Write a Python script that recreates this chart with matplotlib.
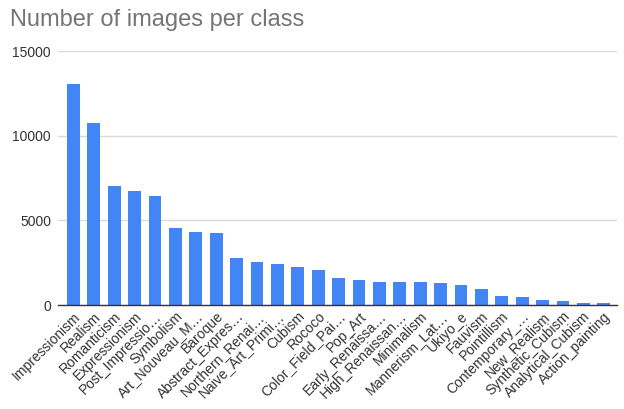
import matplotlib
matplotlib.use("Agg")
import matplotlib.pyplot as plt

categories = ["Impressionism", "Realism", "Romanticism", "Expressionism", "Post_Impressio…",
              "Symbolism", "Art_Nouveau_M…", "Baroque", "Abstract_Expres…", "Northern_Renai…",
              "Naive_Art_Primi…", "Cubism", "Rococo", "Color_Field_Pai…", "Pop_Art",
              "Early_Renaissa…", "High_Renaissan…", "Minimalism", "Mannerism_Lat…", "Ukiyo_e",
              "Fauvism", "Pointillism", "Contemporary_…", "New_Realism", "Synthetic_Cubism",
              "Analytical_Cubism", "Action_painting"]
counts = [13060, 10733, 7019, 6736, 6450, 4528, 4334, 4240, 2782, 2552,
          2405, 2235, 2089, 1615, 1483, 1391, 1343, 1337, 1279, 1167,
          934, 513, 481, 314, 216, 110, 98]
yticks = [0, 5000, 10000, 15000]

plt.rcParams['font.family'] = ['Liberation Sans', 'DejaVu Sans']
fig = plt.figure(figsize=(6.24, 4.09), dpi=100)
ax = fig.add_axes([0.093, 0.254, 0.896, 0.621])
x = range(len(categories))
ax.bar(x, counts, width=0.63, color='#4285F4', zorder=3)
ax.set_xlim(-0.75, len(categories) - 0.35)
ax.set_ylim(0, 15000)
ax.set_yticks(yticks)
ax.set_yticklabels([str(v) for v in yticks], fontsize=10, color='#333333')
ax.set_xticks(list(x))
ax.set_xticklabels(categories, rotation=45, ha='right', rotation_mode='anchor',
                   fontsize=10, color='#333333')
ax.tick_params(axis='y', length=0, pad=5)
ax.tick_params(axis='x', length=0, pad=3)
ax.grid(axis='y', color='#d9d9d9', linewidth=1, zorder=0)
for s in ['top', 'right', 'left']:
    ax.spines[s].set_visible(False)
ax.spines['bottom'].set_color('#333333')
ax.spines['bottom'].set_linewidth(1)
ax.spines['bottom'].set_zorder(4)
fig.text(0.016, 0.951, "Number of images per class", fontsize=17, color='#757575',
         ha='left', va='center')
fig.savefig("out.png", dpi=100)
